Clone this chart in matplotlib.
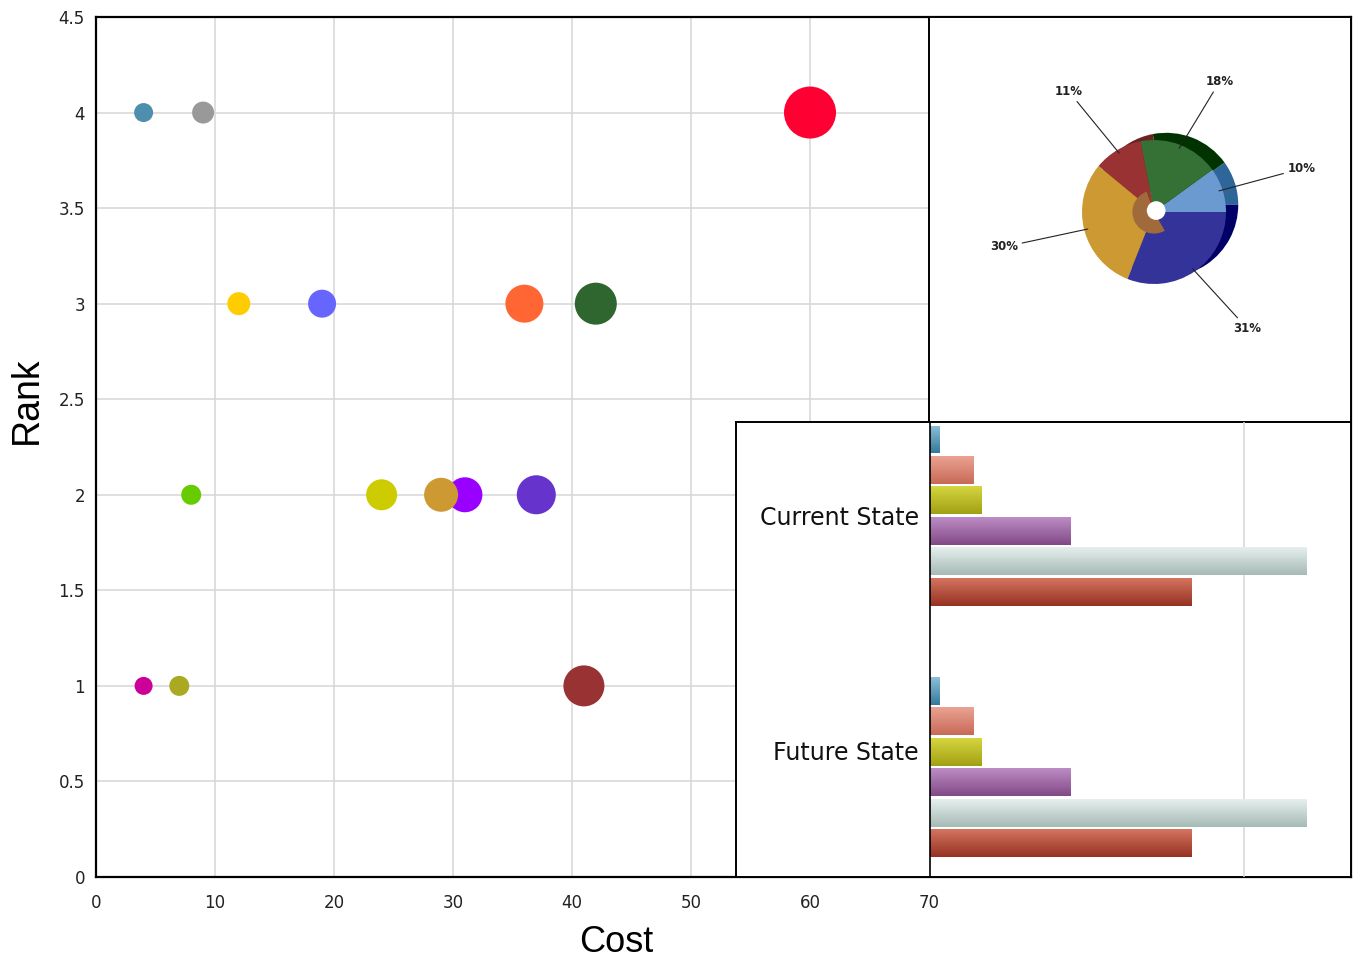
import numpy as np
import matplotlib
matplotlib.use("Agg")
import matplotlib.pyplot as plt
from matplotlib.patches import Wedge, Circle
from matplotlib.transforms import ScaledTranslation

# bubble data (cost, rank, bubble size, colour) - drawn in list order
cost = [4, 9, 60, 12, 19, 36, 42, 8, 24, 31, 29, 37, 4, 7, 41]
rank = [4, 4, 4, 3, 3, 3, 3, 2, 2, 2, 2, 2, 1, 1, 1]
bubble = [19, 22, 52, 23, 28, 38, 42, 20, 31, 35, 34, 39, 18, 20, 41]
bubble_colors = ["#4f8fae", "#999999", "#ff0033", "#ffcc00", "#6666ff", "#ff6633",
                 "#2f662f", "#66cc00", "#cccc00", "#9900ff", "#cc9933", "#6633cc",
                 "#cc0099", "#aaaa22", "#993333"]

# pie data
pie_pct = [10, 18, 11, 30, 31]
pie_colors = ["#6a9ad0", "#357035", "#993333", "#cc9933", "#333399"]
pie_side = ["#2f6699", "#003300", "#6a2222", "#aa7a22", "#000066"]

# bar data
states = ["Future State", "Current State"]
bar_series = [[1.5, 1.5], [7, 7], [8.2, 8.2], [22.3, 22.3], [60, 60], [41.7, 41.7]]
bar_top = ["#8cc0d8", "#eba292", "#d6d640", "#bd8cc5", "#e6efed", "#d47460"]
bar_bot = ["#357a9c", "#c86a58", "#a0a014", "#814a86", "#a6bab6", "#963222"]

W, H = 1353, 961
fig = plt.figure(figsize=(W / 100, H / 100), dpi=100)


def fpos(x0, y0, x1, y1):
    return [x0 / W, 1 - y1 / H, (x1 - x0) / W, (y1 - y0) / H]


# ---- main bubble chart
ax = fig.add_axes(fpos(96, 17, 1351, 877))
ax.set_xlim(0, (1351 - 96) / 11.9)
ax.set_ylim(0, 4.5)
ax.set_xticks(range(0, 71, 10))
ax.set_yticks(np.arange(0, 4.51, 0.5))
ax.set_yticklabels(["0", "0.5", "1", "1.5", "2", "2.5", "3", "3.5", "4", "4.5"])
ax.grid(True, color="#d6d6d6", linewidth=1.1)
ax.set_axisbelow(True)
for s in ax.spines.values():
    s.set_linewidth(1.6)
ax.tick_params(length=0, labelsize=12, colors="#222222")
ax.tick_params(axis="x", pad=12)
ax.tick_params(axis="y", pad=8)
sizes = [(d * 0.72) ** 2 for d in bubble]
ax.scatter(cost, rank, s=sizes, c=bubble_colors, linewidths=0, zorder=3)
ax.set_xlabel("Cost", fontsize=26, family="Liberation Sans")
ax.xaxis.set_label_coords((616 - 96) / (1351 - 96), -0.056)
ax.xaxis.label.set_va("top")
ax.set_ylabel("Rank", fontsize=27, family="Liberation Sans")
ax.yaxis.set_label_coords(-0.041, (877 - 400) / 860)

# ---- pie inset
pax = fig.add_axes(fpos(929, 17, 1351, 422))
pax.set_xlim(-(1154 - 929) / 72, (1351 - 1154) / 72)
pax.set_ylim(-(422 - 212) / 72, (212 - 17) / 72)
pax.set_xticks([])
pax.set_yticks([])
for s in pax.spines.values():
    s.set_linewidth(1.4)
bounds = np.concatenate([[0], np.cumsum(pie_pct)]) * 3.6
# extruded side, shifted up-right
for i in range(len(pie_pct)):
    pax.add_patch(Wedge((0.17, 0.1), 1.0, bounds[i], bounds[i + 1], color=pie_side[i], lw=0))
for i in range(len(pie_pct)):
    pax.add_patch(Wedge((0, 0), 1.0, bounds[i], bounds[i + 1], color=pie_colors[i], lw=0))
pax.add_patch(Wedge((0, 0), 0.3, 110, 300, color="#a06a3a", lw=0))
pax.add_patch(Circle((0.03, 0.02), 0.13, color="white", lw=0))
for i, p in enumerate(pie_pct):
    mid = np.deg2rad((bounds[i] + bounds[i + 1]) / 2)
    c, s = np.cos(mid), np.sin(mid)
    tx, ty = 1.95 * c, 1.95 * s
    pax.annotate(f"{p}%", xy=(0.95 * c, 0.95 * s), xytext=(tx, ty),
                 ha="left" if c > 0 else "right", va="center",
                 fontsize=8.5, fontweight="bold", color="#222222",
                 arrowprops=dict(arrowstyle="-", color="#222222", lw=0.8,
                                 shrinkA=1, shrinkB=0))

# ---- bar inset
fax = fig.add_axes(fpos(736, 422, 1351, 877))
fax.set_xticks([])
fax.set_yticks([])
for s in fax.spines.values():
    s.set_linewidth(1.4)

bax = fig.add_axes(fpos(930, 422, 1351, 877))
bax.patch.set_alpha(0)
for k in ["top", "right", "bottom"]:
    bax.spines[k].set_visible(False)
bax.spines["left"].set_linewidth(1.2)
bax.set_xticks([50])
bax.xaxis.set_ticklabels([])
bax.grid(True, axis="x", color="#d6d6d6", linewidth=1.1)
bax.set_axisbelow(True)
bax.set_yticks(range(len(states)))
bax.set_yticklabels(states, fontsize=17, color="#111111")
bax.tick_params(length=0, pad=8)

step, hgt = 0.121, 0.111
ypos = np.arange(len(states))
for i, vals in enumerate(bar_series):
    bars = bax.barh(ypos + (2.5 - i) * step, vals, height=hgt, color=bar_bot[i], lw=0)
    grad = matplotlib.colors.LinearSegmentedColormap.from_list("g", [bar_bot[i], bar_top[i]])
    for b in bars:
        x0, y0 = b.get_x(), b.get_y()
        im = bax.imshow(np.linspace(0, 1, 50).reshape(-1, 1), cmap=grad, origin="lower",
                        extent=[x0, x0 + b.get_width(), y0, y0 + b.get_height()],
                        aspect="auto", zorder=2)
        im.set_clip_path(b)
bax.set_xlim(0, (1351 - 930) / 6.28)
bax.set_ylim(-0.437, 1.372)

# future state label sits a little above its group in the original
lbl = bax.get_yticklabels()[0]
lbl.set_transform(lbl.get_transform() + ScaledTranslation(0, 0.17, fig.dpi_scale_trans))

fig.savefig("out.png", dpi=100)
